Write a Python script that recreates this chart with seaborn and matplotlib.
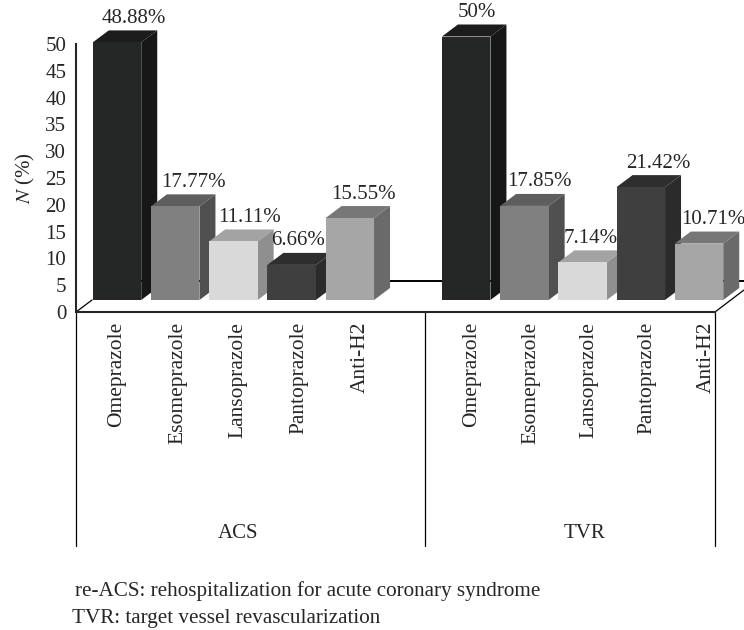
"""
Re-hospitalization and revascularization by acid-suppressing drug, drawn as
pseudo-3D bars: seaborn draws the front faces, the top and side faces are
added from the bar patches.
"""
import pandas as pd
import matplotlib.pyplot as plt
import seaborn as sns
from matplotlib.patches import Polygon

W, H = 744, 630

groups = ["ACS"] * 5 + ["TVR"] * 5
drugs = ["Omeprazole", "Esomeprazole", "Lansoprazole", "Pantoprazole", "Anti-H2"] * 2
values = [48.88, 17.77, 11.11, 6.66, 15.55, 50, 17.85, 7.14, 21.42, 10.71]
y_ticks = list(range(0, 55, 5))
notes = ["re-ACS: rehospitalization for acute coronary syndrome",
         "TVR: target vessel revascularization"]

FRONT = {"Omeprazole": "#252626", "Esomeprazole": "#808080", "Lansoprazole": "#d9d9d9",
         "Pantoprazole": "#3f3f3f", "Anti-H2": "#a6a6a6"}
SIDE = {"Omeprazole": "#171717", "Esomeprazole": "#505050", "Lansoprazole": "#8f8f8f",
        "Pantoprazole": "#2b2b2b", "Anti-H2": "#6a6a6a"}
TOP = {"Omeprazole": "#1c1c1c", "Esomeprazole": "#5e5e5e", "Lansoprazole": "#a3a3a3",
       "Pantoprazole": "#2e2e2e", "Anti-H2": "#777777"}

# layout, in pixels of the final image
LABEL_DX = [17, 18, 16, 6, 14, 11, 15, 8, 18, 14]
TICK_X = [117, 177.5, 238, 298.5, 360, 472, 531, 589, 647, 706]
DEPTH_X, DEPTH_Y = 16, 12
BAR_X0, BAR_PITCH, BAR_Y0, PX_PER_UNIT = 117, 58.2, 300, 5.27
FS = 15


def add_rect_axes(fig, left, top, right, bottom, **kw):
    return fig.add_axes([left / W, 1 - bottom / H, (right - left) / W, (bottom - top) / H], **kw)


def draw_guides(fig):
    ax = add_rect_axes(fig, 0, 0, W, H)
    ax.set_xlim(0, W)
    ax.set_ylim(H, 0)
    ax.axis("off")
    for x in (76, 425, 715):
        ax.plot([x, x], [312, 546], color="black", lw=0.9)
    ax.plot([76, 92], [312, 300], color="black", lw=0.9)
    ax.plot([715, 744], [312, 290], color="black", lw=0.9)
    ax.plot([141, W], [281, 281], color="black", lw=1.4)
    ax.text(238, 534, "ACS", ha="center", va="center", fontsize=FS)
    ax.text(584, 534, "TVR", ha="center", va="center", fontsize=FS)
    ax.text(75, 591, notes[0], ha="left", va="center", fontsize=15.2)
    ax.text(72, 618, notes[1], ha="left", va="center", fontsize=15.2)


def draw_frame(fig):
    ax = add_rect_axes(fig, 76, 44, 715, 312)
    ax.patch.set_visible(False)
    ax.set_xlim(76, 715)
    ax.set_ylim(0, 50)
    sns.despine(ax=ax)
    ax.spines["left"].set_linewidth(1.5)
    ax.spines["bottom"].set_linewidth(1.5)
    ax.set_yticks(y_ticks)
    ax.tick_params(axis="y", length=0, pad=7, labelsize=FS)
    ax.set_xticks(TICK_X, drugs, rotation=90, ha="center", va="top")
    ax.tick_params(axis="x", length=0, pad=7, labelsize=15.5)
    ax.set_ylabel(r"$\mathit{N}$ (%)", fontsize=FS, labelpad=6)


def draw_bars(fig, df):
    ax = add_rect_axes(fig, 0, 0, W, H)
    order = list(df["key"][:5]) + [""] + list(df["key"][5:])
    sns.barplot(data=df, x="key", y="value", hue="drug", order=order, palette=FRONT,
                dodge=False, width=0.833, saturation=1, legend=False, ax=ax)
    ax.set_xlim(-BAR_X0 / BAR_PITCH, (W - BAR_X0) / BAR_PITCH)
    ax.set_ylim(-(H - BAR_Y0) / PX_PER_UNIT, BAR_Y0 / PX_PER_UNIT)
    ax.axis("off")

    dx = DEPTH_X / BAR_PITCH
    dy = DEPTH_Y / PX_PER_UNIT
    bars = sorted([p for p in ax.patches if p.get_height() > 0], key=lambda p: p.get_x())
    for i, (bar, row) in enumerate(zip(bars, df.itertuples())):
        x0, x1 = bar.get_x(), bar.get_x() + bar.get_width()
        h = bar.get_height()
        bar.set_zorder(10 + 2 * i + 1)
        bar.set_edgecolor("none")
        ax.add_patch(Polygon([(x0, h), (x1, h), (x1 + dx, h + dy), (x0 + dx, h + dy)],
                             color=TOP[row.drug], lw=0, zorder=10 + 2 * i))
        ax.add_patch(Polygon([(x1, 0), (x1 + dx, dy), (x1 + dx, h + dy), (x1, h)],
                             color=SIDE[row.drug], lw=0, zorder=10 + 2 * i))
        ax.annotate(f"{row.value:g}%", xy=(bar.get_x() + bar.get_width() / 2, h),
                    xytext=(LABEL_DX[i] * 0.72, 24 * 0.72), textcoords="offset points",
                    ha="center", va="center", fontsize=FS, zorder=50)


def main():
    sns.set_style("white")
    plt.rcParams["font.family"] = ["Liberation Serif", "DejaVu Serif"]
    plt.rcParams["mathtext.fontset"] = "stix"

    df = pd.DataFrame({"group": groups, "drug": drugs, "value": values})
    df["key"] = df["group"] + " " + df["drug"]

    fig = plt.figure(figsize=(W / 100, H / 100), dpi=100)
    draw_guides(fig)
    draw_frame(fig)
    draw_bars(fig, df)
    fig.savefig("out.png", dpi=100)
    plt.close(fig)


if __name__ == "__main__":
    main()
